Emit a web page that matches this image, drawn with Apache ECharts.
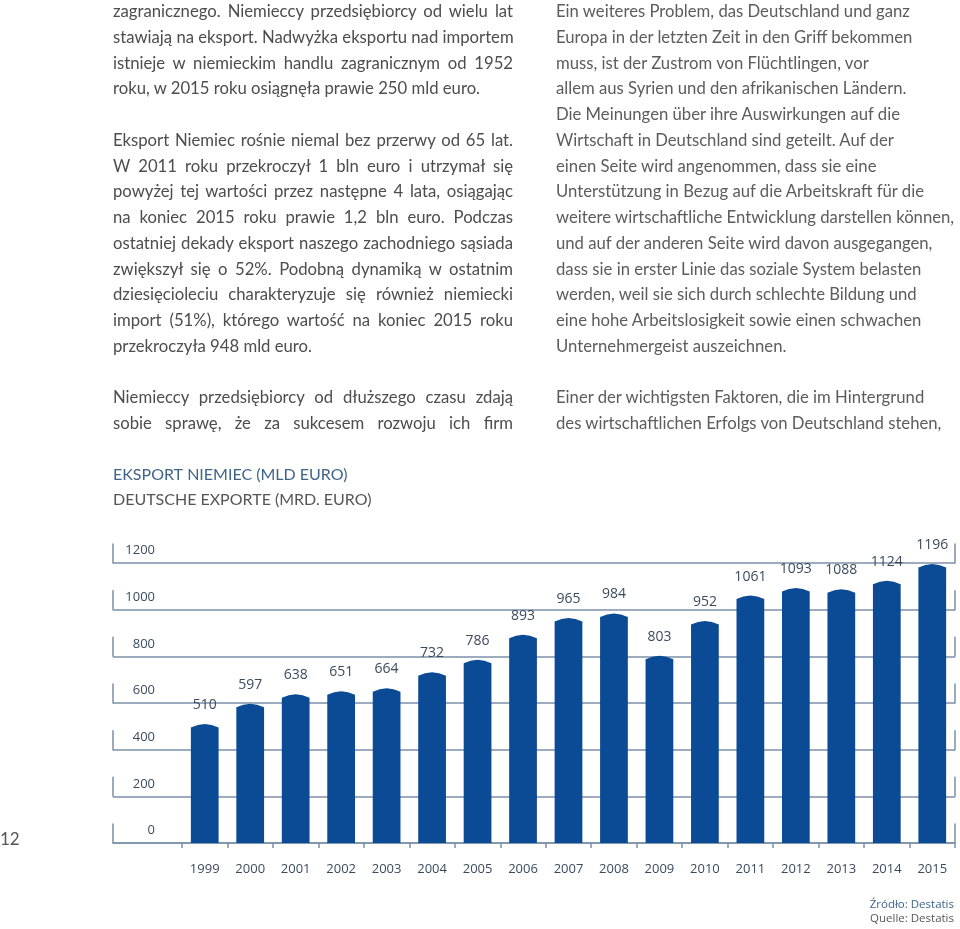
<!DOCTYPE html>
<html>
<head>
<meta charset="utf-8">
<script src="https://cdn.jsdelivr.net/npm/echarts@6/dist/echarts.min.js"></script>
<style>
  html, body { margin: 0; padding: 0; background: #fff; }
  body { width: 960px; height: 929px; position: relative; overflow: hidden; }
  #chart { position: absolute; left: 0; top: 0; width: 960px; height: 929px; }
  .col { position: absolute; top: -1px; font-family: Lato, "Open Sans", sans-serif; font-size: 16.7px; line-height: 25.75px; z-index: 2; }
  .col div { white-space: nowrap; height: 25.75px; }
  #left { left: 113px; width: 400px; color: #4d4d4d; }
  #left .j { text-align: justify; text-align-last: justify; }
  #right { left: 556px; width: 404px; color: #5c5c5c; }
</style>
</head>
<body>
<div id="chart"></div>
<div class="col" id="left"></div>
<div class="col" id="right"></div>
<script>
// ---- data ----
const years = ['1999','2000','2001','2002','2003','2004','2005','2006','2007','2008','2009','2010','2011','2012','2013','2014','2015'];
const exportValues = [510, 597, 638, 651, 664, 732, 786, 893, 965, 984, 803, 952, 1061, 1093, 1088, 1124, 1196];
const yTickLabels = [0, 200, 400, 600, 800, 1000, 1200];

const titlePL = 'EKSPORT NIEMIEC (MLD EURO)';
const titleDE = 'DEUTSCHE EXPORTE (MRD. EURO)';
const sourcePL = 'Źródło: Destatis';
const sourceDE = 'Quelle: Destatis';
const pageNumber = '12';

// body text lines: [text, justified]
const leftLines = [
  ['zagranicznego. Niemieccy przedsiębiorcy od wielu lat', true],
  ['stawiają na eksport. Nadwyżka eksportu nad importem', true],
  ['istnieje w niemieckim handlu zagranicznym od 1952', true],
  ['roku, w 2015 roku osiągnęła prawie 250 mld euro.', false],
  ['', false],
  ['Eksport Niemiec rośnie niemal bez przerwy od 65 lat.', true],
  ['W 2011 roku przekroczył 1 bln euro i utrzymał się', true],
  ['powyżej tej wartości przez następne 4 lata, osiągając', true],
  ['na koniec 2015 roku prawie 1,2 bln euro. Podczas', true],
  ['ostatniej dekady eksport naszego zachodniego sąsiada', true],
  ['zwiększył się o 52%. Podobną dynamiką w ostatnim', true],
  ['dziesięcioleciu charakteryzuje się również niemiecki', true],
  ['import (51%), którego wartość na koniec 2015 roku', true],
  ['przekroczyła 948 mld euro.', false],
  ['', false],
  ['Niemieccy przedsiębiorcy od dłuższego czasu zdają', true],
  ['sobie sprawę, że za sukcesem rozwoju ich firm', true]
];
const rightLines = [
  'Ein weiteres Problem, das Deutschland und ganz',
  'Europa in der letzten Zeit in den Griff bekommen',
  'muss, ist der Zustrom von Flüchtlingen, vor',
  'allem aus Syrien und den afrikanischen Ländern.',
  'Die Meinungen über ihre Auswirkungen auf die',
  'Wirtschaft in Deutschland sind geteilt. Auf der',
  'einen Seite wird angenommen, dass sie eine',
  'Unterstützung in Bezug auf die Arbeitskraft für die',
  'weitere wirtschaftliche Entwicklung darstellen können,',
  'und auf der anderen Seite wird davon ausgegangen,',
  'dass sie in erster Linie das soziale System belasten',
  'werden, weil sie sich durch schlechte Bildung und',
  'eine hohe Arbeitslosigkeit sowie einen schwachen',
  'Unternehmergeist auszeichnen.',
  '',
  'Einer der wichtigsten Faktoren, die im Hintergrund',
  'des wirtschaftlichen Erfolgs von Deutschland stehen,'
];

const leftEl = document.getElementById('left');
leftLines.forEach(([t, j]) => {
  const d = document.createElement('div');
  if (j) d.className = 'j';
  d.textContent = t;
  leftEl.appendChild(d);
});
const rightEl = document.getElementById('right');
rightLines.forEach(t => {
  const d = document.createElement('div');
  d.textContent = t;
  rightEl.appendChild(d);
});

// ---- chart ----
const BAR = '#0b4a94';
const LINE = '#7b90a8';
const TXT = '#3b4b5e';
const yMax = 1282; // room for the tick stubs above the 1200 line
const chart = echarts.init(document.getElementById('chart'), null, { renderer: 'canvas' });

const axisStub = { show: true, lineStyle: { color: LINE, width: 1.5, type: [19, 27.67] } };

chart.setOption({
  animation: false,
  backgroundColor: '#fff',
  title: {
    left: 113, top: 467, padding: 0,
    text: titlePL,
    subtext: titleDE,
    itemGap: 9,
    textStyle: { fontFamily: 'Lato', fontWeight: 'normal', fontSize: 16, color: '#3f6489' },
    subtextStyle: { fontFamily: 'Lato', fontWeight: 'normal', fontSize: 16, color: '#555' }
  },
  grid: [
    { left: 113, right: 5, top: 544, bottom: 86 },
    { left: 182, right: 5, top: 544, bottom: 86 }
  ],
  xAxis: [
    { gridIndex: 0, type: 'value', min: 0, max: 1, axisLine: { show: true, onZero: false, lineStyle: { color: LINE, width: 1.5 } },
      axisTick: { show: false }, axisLabel: { show: false }, splitLine: { show: false } },
    { gridIndex: 1, type: 'category', data: years, boundaryGap: true,
      axisLine: { show: false }, axisTick: { show: true, length: 5, lineStyle: { color: LINE, width: 1.5 } },
      axisLabel: { margin: 20, fontFamily: 'Open Sans', fontSize: 13, color: TXT } }
  ],
  yAxis: [
    { gridIndex: 0, type: 'value', position: 'left', min: 0, max: yMax, interval: 200,
      axisLine: axisStub, axisTick: { show: false },
      splitLine: { show: true, showMaxLine: false, lineStyle: { color: LINE, width: 1.5 } },
      axisLabel: { inside: true, align: 'right', margin: 42, verticalAlign: 'bottom', padding: [0, 0, 6, 0],
        showMaxLabel: false, fontFamily: 'Open Sans', fontSize: 13, color: TXT,
        formatter: v => (yTickLabels.includes(v) ? String(v) : '') } },
    { gridIndex: 0, type: 'value', position: 'right', min: 0, max: yMax, interval: 200,
      axisLine: axisStub, axisTick: { show: false }, axisLabel: { show: false }, splitLine: { show: false } },
    { gridIndex: 1, type: 'value', min: 0, max: yMax, show: false }
  ],
  graphic: [
    { type: 'text', left: 0, top: 831, style: { text: pageNumber, font: '17px Lato', fill: '#555' } },
    { type: 'text', right: 6, top: 899, style: { text: sourcePL, font: '11.5px "Open Sans"', fill: '#3f6489' } },
    { type: 'text', right: 6, top: 913, style: { text: sourceDE, font: '11.5px "Open Sans"', fill: '#555' } }
  ],
  series: [{
    type: 'custom',
    xAxisIndex: 1, yAxisIndex: 2,
    data: years.map((y, i) => [y, exportValues[i]]),
    encode: { x: 0, y: 1 },
    renderItem: function (params, api) {
      const idx = api.value(0);
      const v = api.value(1);
      const top = api.coord([idx, v]);
      const base = api.coord([idx, 0]);
      const band = api.size([1, 0])[0];
      const w = band * 0.61;
      const x0 = top[0] - w / 2, x1 = top[0] + w / 2;
      const cap = 3.5;
      return {
        type: 'path',
        shape: { pathData: 'M' + x0 + ' ' + base[1] + ' L' + x0 + ' ' + (top[1] + cap) +
          ' Q' + top[0] + ' ' + (top[1] - cap) + ' ' + x1 + ' ' + (top[1] + cap) +
          ' L' + x1 + ' ' + base[1] + ' Z' },
        style: { fill: BAR },
        textContent: { style: { text: String(v), font: '14px "Open Sans"', fill: TXT } },
        textConfig: { position: 'top', distance: 12 }
      };
    }
  }]
});
</script>
</body>
</html>
